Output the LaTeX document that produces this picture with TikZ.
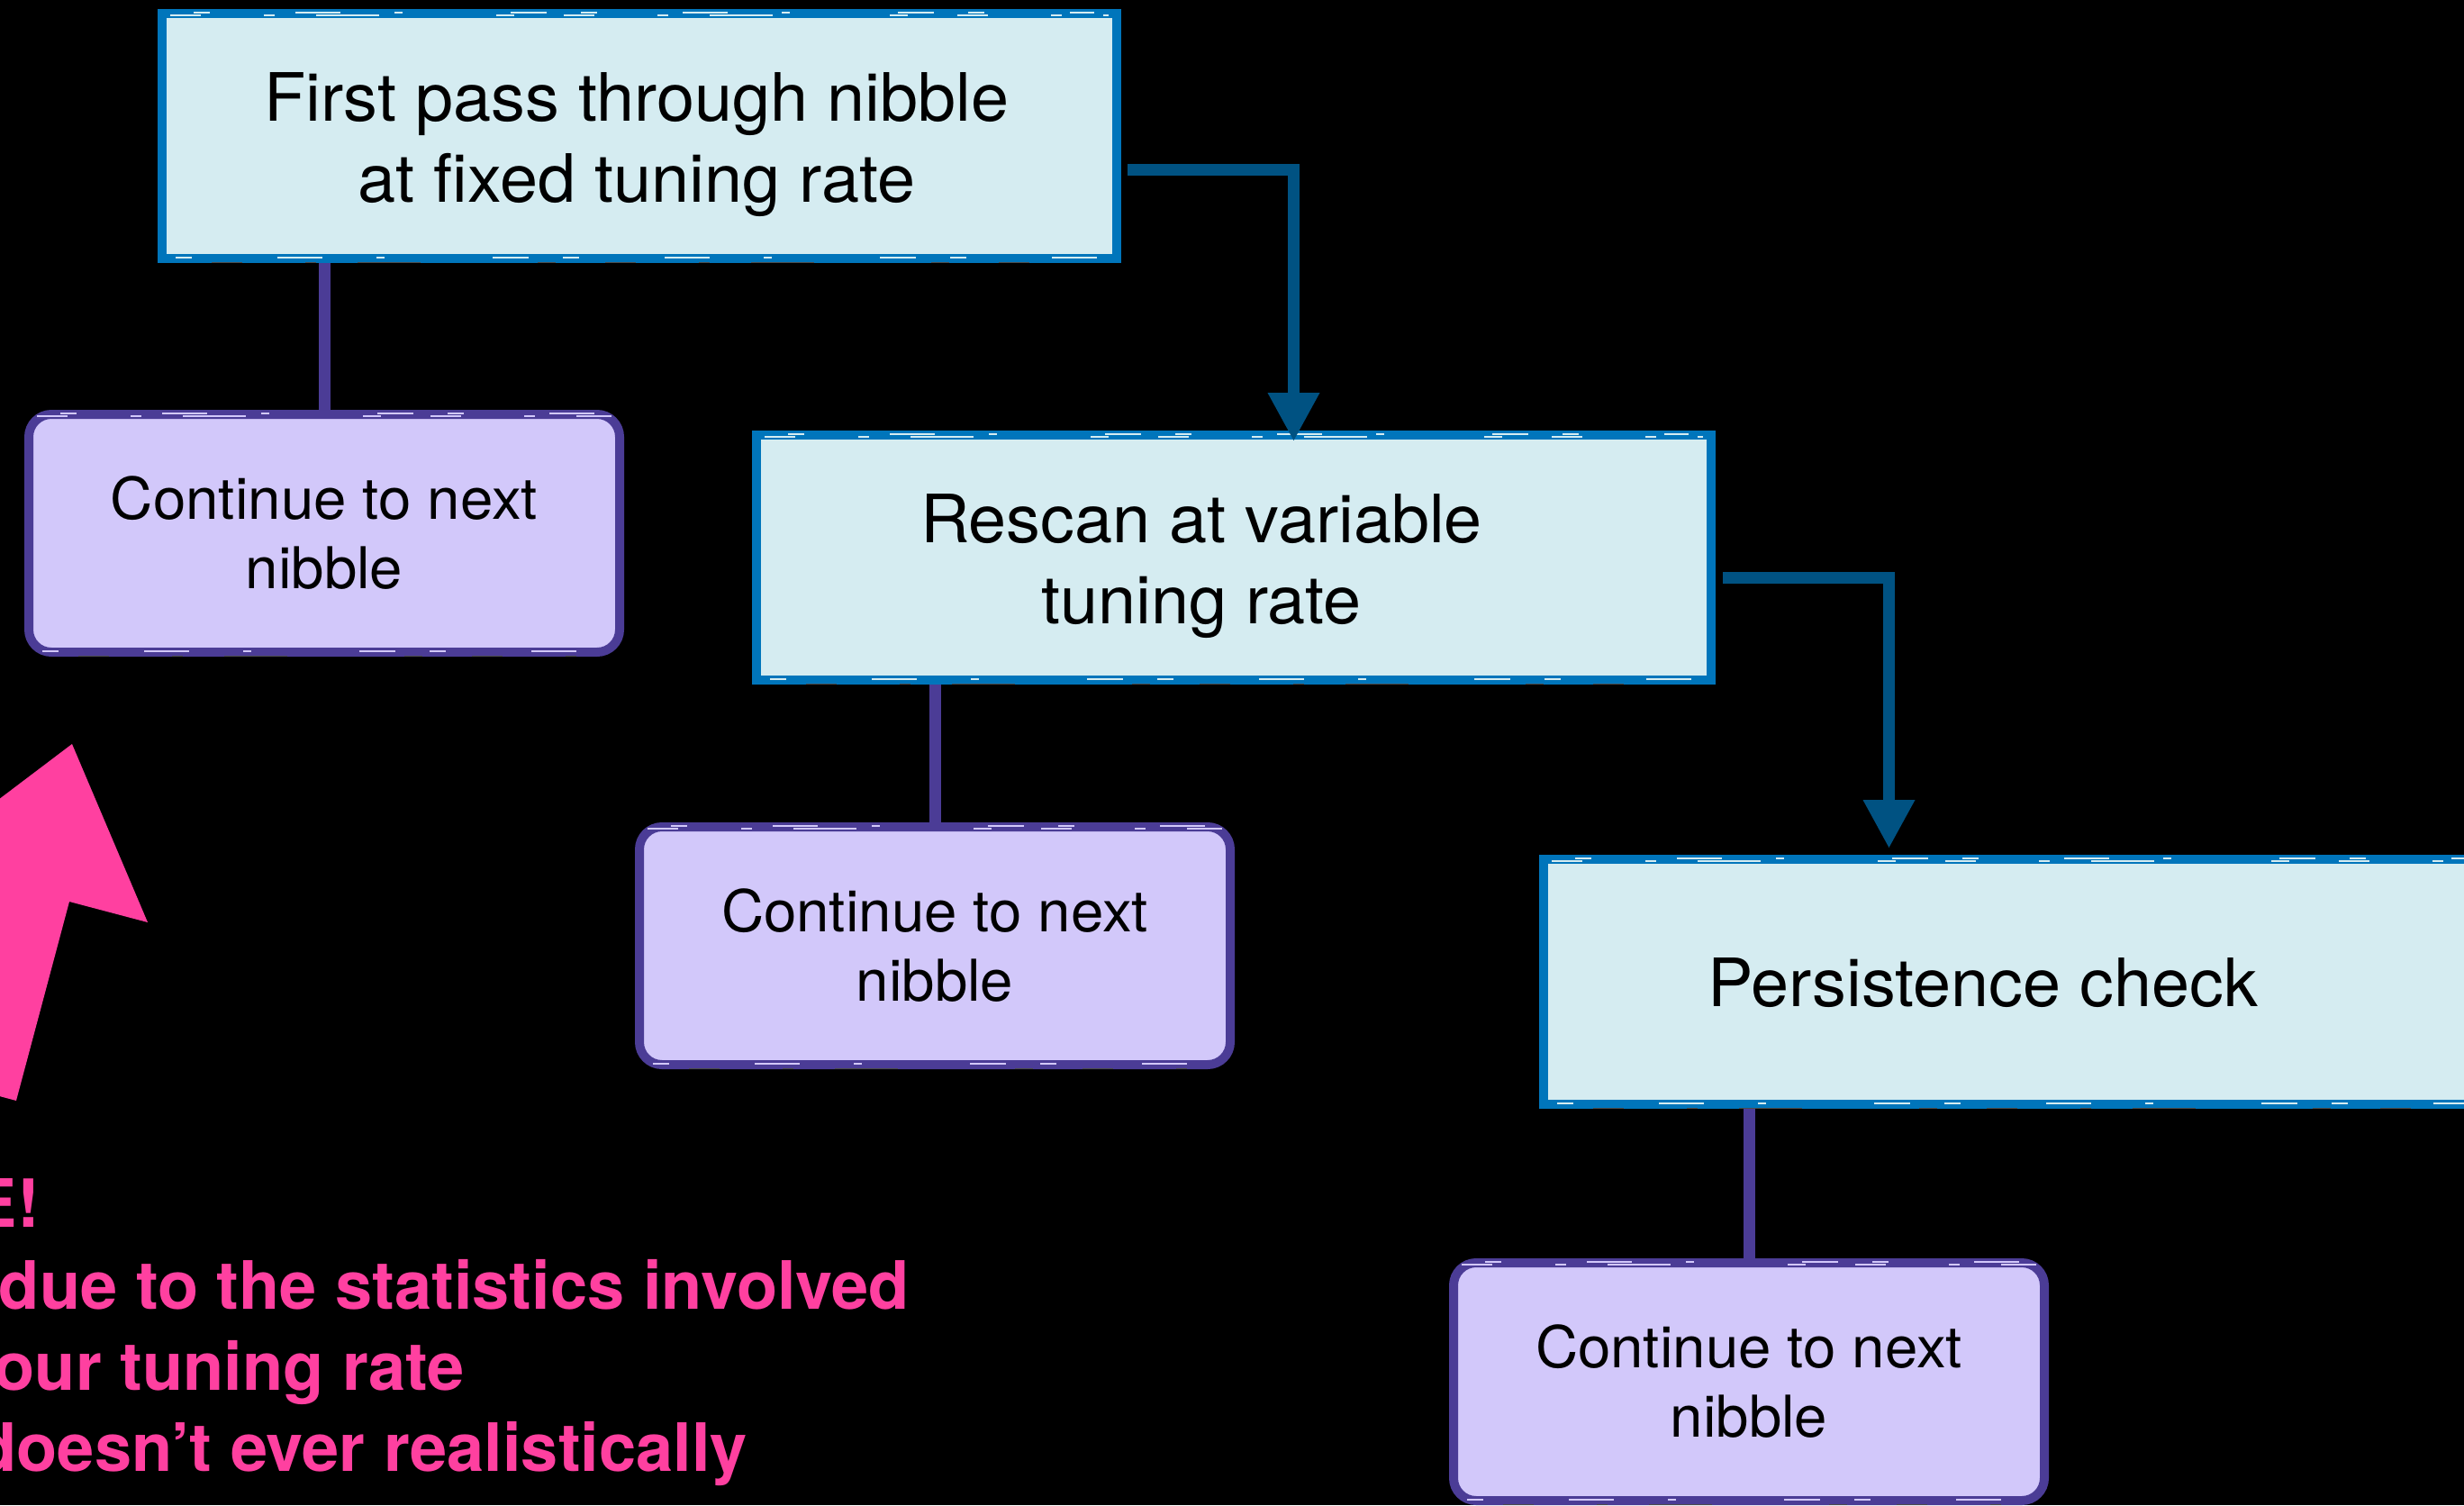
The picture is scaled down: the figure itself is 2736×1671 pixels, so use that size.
\documentclass[tikz,border=0pt]{standalone}
\usepackage{fontspec}
\setmainfont[FakeStretch=1.022]{TeX Gyre Heros}
\newfontfamily\notefont{TeX Gyre Heros}
\usetikzlibrary{arrows.meta,calc}

\definecolor{stepfill}{RGB}{213,236,241}
\definecolor{stepline}{RGB}{0,117,187}
\definecolor{flowline}{RGB}{0,82,130}
\definecolor{nextfill}{RGB}{210,200,250}
\definecolor{nextline}{RGB}{75,60,150}
\definecolor{notepink}{RGB}{255,64,160}

\tikzset{
  stagebox/.style={draw=stepline, fill=stepfill, line width=10pt,
    minimum width=1060pt, minimum height=272pt, inner sep=0pt},
  stagetext/.style={font=\fontsize{74}{90}\selectfont, align=center, inner sep=0pt},
  nextbox/.style={draw=nextline, fill=nextfill, line width=10pt, rounded corners=25pt,
    minimum width=656pt, minimum height=264pt, inner sep=0pt, align=center,
    font=\fontsize{64}{77}\selectfont},
  link/.style={draw=nextline, line width=13pt},
  flow/.style={draw=flowline, line width=13pt, line join=miter,
    -{Triangle[length=54pt,width=54pt]}},
  note/.style={text=notepink, font=\notefont\bfseries\fontsize{74}{90}\selectfont,
    anchor=base east, inner sep=0pt},
  % light brush streaks running through a border
  streakA/.style={line width=1.6pt, dash pattern=on 34pt off 70pt on 12pt off 46pt on 70pt off 130pt on 20pt off 55pt},
  streakB/.style={line width=1.2pt, dash pattern=on 18pt off 95pt on 50pt off 60pt on 9pt off 120pt on 40pt off 38pt},
}

% brush-like streaks along the top and bottom edges of a box
\newcommand\brushedges[2]{%
  \draw[#2, streakA] ($(#1.north west)+(14,7)$) -- ($(#1.north east)+(-14,7)$);
  \draw[#2, streakB] ($(#1.north west)+(40,4)$) -- ($(#1.north east)+(-30,4)$);
  \draw[#2, streakB] ($(#1.south west)+(20,-6)$) -- ($(#1.south east)+(-20,-6)$);
  \draw[black!70, streakA, line width=1pt] ($(#1.south west)+(60,-1)$) -- ($(#1.south east)+(-40,-1)$);
}

\begin{document}
\begin{tikzpicture}[x=1pt,y=-1pt]
  % page and background
  \fill[black] (0,0) rectangle (2736,1671);
  \useasboundingbox (0,0) rectangle (2736,1671);

  % pink pointer arrow
  \fill[notepink] (80,826) -- (164,1024) -- (77,1001) -- (18,1222)
    -- (-63.7,1200) -- (-4.7,979) -- (-91.5,955.7) -- cycle;

  % note text
  \node[note] (n0) at (44,1362) {E!};
  \node[note] (n1) at (1010,1453) {due to the statistics involved};
  \node[note] (n2) at (516,1543) {our tuning rate};
  \node[note] (n3) at (830,1633) {doesn’t ever realistically};

  % stage boxes
  \node[stagebox] (b1) at (710,151) {};
  \node[stagebox] (b3) at (1370,619) {};
  \node[stagebox] (b4) at (2244,1090) {};
  \brushedges{b1}{stepfill}
  \brushedges{b3}{stepfill}
  \brushedges{b4}{stepfill}
  \node[stagetext] (t1) at (707,161) {First pass through nibble\\at fixed tuning rate};
  \node[stagetext] (t3) at (1334,629) {Rescan at variable\\tuning rate};
  \node[stagetext] (t4) at (2202,1091) {Persistence check};

  % continue boxes
  \node[nextbox] (c1) at (360,592) {Continue to next\\nibble};
  \node[nextbox] (c2) at (1038,1050) {Continue to next\\nibble};
  \node[nextbox] (c3) at (1942,1534) {Continue to next\\nibble};
  \brushedges{c1}{nextfill}
  \brushedges{c2}{nextfill}
  \brushedges{c3}{nextfill}

  % links to the continue boxes
  \draw[link] (c1.north |- b1.south) -- (c1.north);
  \draw[link] (c2.north |- b3.south) -- (c2.north);
  \draw[link] (c3.north |- b4.south) -- (c3.north);

  % flow arrows between stages
  \coordinate (f1) at (1252,188);
  \coordinate (k1) at (1436.5,188);
  \draw[flow, shorten >=-12pt] (f1) -| (k1 |- b3.north);
  \coordinate (f2) at (1913,641);
  \coordinate (k2) at (2097.5,641);
  \draw[flow, shorten >=7pt] (f2) -| (k2 |- b4.north);
\end{tikzpicture}
\end{document}
